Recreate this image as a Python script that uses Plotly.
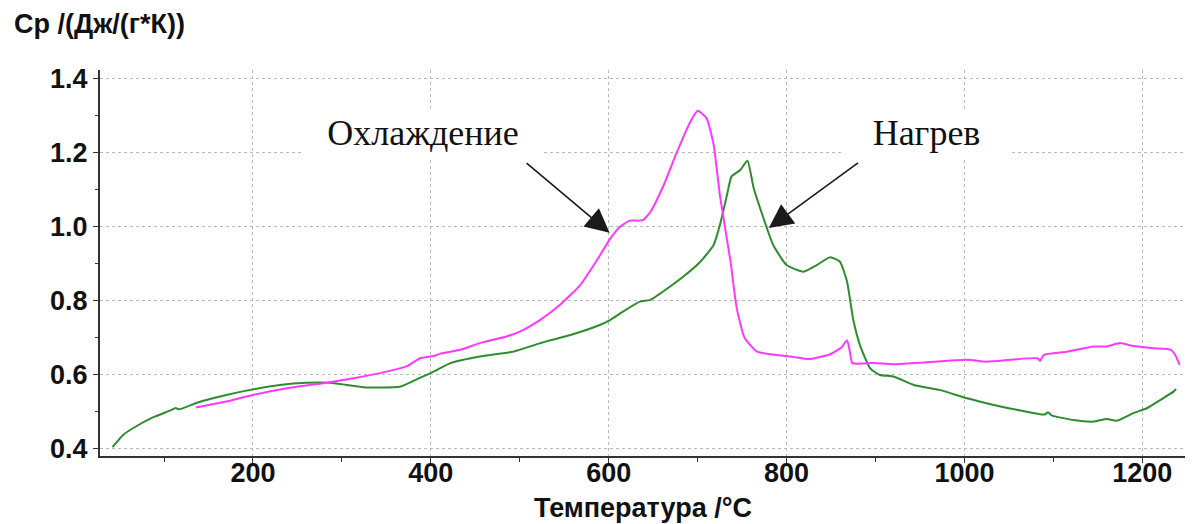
import plotly.graph_objects as go

# Heating curve (Нагрев) – temperature °C and Cp
heat_T = [42, 54, 65, 88, 108, 113, 117, 137, 170, 200, 230, 260, 287, 305, 324, 345, 365,
          384, 403, 422, 455, 493, 523, 557, 590, 602, 616, 635, 647, 669, 684, 703, 718,
          725, 733, 738, 748, 756, 763, 774, 785, 800, 819, 834, 849, 860, 868, 875, 883,
          894, 905, 920, 943, 973, 1003, 1033, 1063, 1090, 1094, 1098, 1123, 1145, 1160,
          1171, 1190, 1205, 1220, 1235, 1238]
heat_Cp = [0.405, 0.438, 0.456, 0.486, 0.505, 0.511, 0.507, 0.525, 0.546, 0.561, 0.573,
           0.579, 0.579, 0.573, 0.567, 0.566, 0.568, 0.588, 0.609, 0.632, 0.650, 0.663,
           0.686, 0.708, 0.735, 0.749, 0.771, 0.798, 0.803, 0.839, 0.866, 0.906, 0.951,
           1.005, 1.086, 1.136, 1.154, 1.179, 1.105, 1.024, 0.951, 0.897, 0.879, 0.897,
           0.918, 0.906, 0.852, 0.749, 0.677, 0.618, 0.600, 0.596, 0.573, 0.559, 0.537,
           0.519, 0.504, 0.493, 0.499, 0.491, 0.478, 0.474, 0.481, 0.476, 0.497, 0.510,
           0.532, 0.555, 0.562]

# Cooling curve (Охлаждение)
cool_T = [136, 170, 200, 238, 283, 313, 350, 373, 388, 403, 410, 433, 455, 485, 500, 523,
          545, 568, 587, 602, 613, 624, 635, 639, 647, 662, 677, 692, 700, 710, 718, 725,
          737, 744, 753, 767, 782, 804, 826, 849, 862, 868, 871, 874, 898, 920, 950, 1003,
          1025, 1055, 1082, 1085, 1089, 1115, 1145, 1160, 1175, 1190, 1213, 1232, 1237, 1242]
cool_Cp = [0.512, 0.528, 0.546, 0.564, 0.579, 0.591, 0.609, 0.624, 0.645, 0.651, 0.657,
           0.668, 0.686, 0.704, 0.717, 0.749, 0.789, 0.843, 0.911, 0.969, 1.001, 1.017,
           1.017, 1.019, 1.041, 1.114, 1.204, 1.285, 1.314, 1.294, 1.222, 1.086, 0.906,
           0.780, 0.699, 0.663, 0.656, 0.650, 0.643, 0.656, 0.675, 0.694, 0.665, 0.632,
           0.632, 0.629, 0.633, 0.641, 0.636, 0.642, 0.645, 0.638, 0.654, 0.663, 0.677,
           0.677, 0.686, 0.678, 0.672, 0.668, 0.654, 0.627]

x_ticks = [200, 400, 600, 800, 1000, 1200]
y_ticks = [0.4, 0.6, 0.8, 1.0, 1.2, 1.4]

labels = ["Охлаждение", "Нагрев"]
label_pos = [(391, 1.254), (957, 1.254)]
label_box_w = [240, 165]
arrow_heads = [(601, 0.984), (780, 0.997)]
arrow_tails = [(506, 1.176), (882, 1.176)]

GREEN = "#2f8c2f"
MAGENTA = "#ff38ff"
AXIS = "#333333"
SANS = "Liberation Sans, Arial, sans-serif"
SERIF = "Liberation Serif, Times New Roman, serif"

fig = go.Figure()
fig.add_trace(go.Scatter(x=heat_T, y=heat_Cp, mode="lines",
                         line=dict(color=GREEN, width=2, shape="spline", smoothing=0.5),
                         name="Нагрев"))
fig.add_trace(go.Scatter(x=cool_T, y=cool_Cp, mode="lines",
                         line=dict(color=MAGENTA, width=2, shape="spline", smoothing=0.5),
                         name="Охлаждение"))

for (tx, ty), lab, bw in zip(label_pos, labels, label_box_w):
    fig.add_annotation(x=tx, y=ty, xref="x", yref="y", text=lab, showarrow=False,
                       font=dict(family=SERIF, size=36, color="#111111"),
                       bgcolor="white", width=bw, height=48, borderpad=0)

for (hx, hy), (tx, ty) in zip(arrow_heads, arrow_tails):
    fig.add_annotation(x=hx, y=hy, xref="x", yref="y", ax=tx, ay=ty, axref="x", ayref="y",
                       text="", showarrow=True, arrowhead=2, arrowsize=3.0,
                       arrowwidth=1.6, arrowcolor="#1a1a1a", standoff=0)

fig.add_annotation(x=-0.0811, y=1.0, xref="paper", yref="paper", yshift=46,
                   xanchor="left", yanchor="middle", showarrow=False,
                   text="<b>Cp /(Дж/(г*К))</b>",
                   font=dict(family=SANS, size=27, color="#111111"))

fig.add_annotation(x=0.5, y=0.0, xref="paper", yref="paper", yshift=-52,
                   xanchor="center", yanchor="middle", showarrow=False,
                   text="<b>Температура /°C</b>",
                   font=dict(family=SANS, size=27, color="#111111"))

fig.update_layout(
    width=1186, height=516,
    margin=dict(l=92, r=9, t=62, b=68, autoexpand=False),
    paper_bgcolor="white", plot_bgcolor="white",
    showlegend=False,
    font=dict(family=SANS, color="#111111"),
)
fig.update_xaxes(
    range=[28, 1248], tickvals=x_ticks, ticktext=[str(v) for v in x_ticks],
    automargin=False, ticklabelstandoff=-13,
    showgrid=True, gridcolor="#b8b8b8", griddash="dot", gridwidth=1,
    showline=True, linecolor=AXIS, linewidth=2, zeroline=False,
    ticks="outside", ticklen=5, tickcolor=AXIS, tickwidth=1,
    minor=dict(dtick=100, tick0=0, ticks="outside", ticklen=4, tickcolor=AXIS, showgrid=False),
    tickfont=dict(family=SANS, size=27, color="#111111", weight="bold"),
)
fig.update_yaxes(
    range=[0.381, 1.424], tickvals=y_ticks, ticktext=[f"{v:.1f}" for v in y_ticks],
    automargin=False,
    showgrid=True, gridcolor="#b8b8b8", griddash="dot", gridwidth=1,
    showline=True, linecolor=AXIS, linewidth=2, zeroline=False,
    ticks="outside", ticklen=5, tickcolor=AXIS, tickwidth=1,
    minor=dict(dtick=0.1, tick0=0, ticks="outside", ticklen=3, tickcolor=AXIS, showgrid=False),
    tickfont=dict(family=SANS, size=27, color="#111111", weight="bold"),
)

fig.write_html("out.html")
